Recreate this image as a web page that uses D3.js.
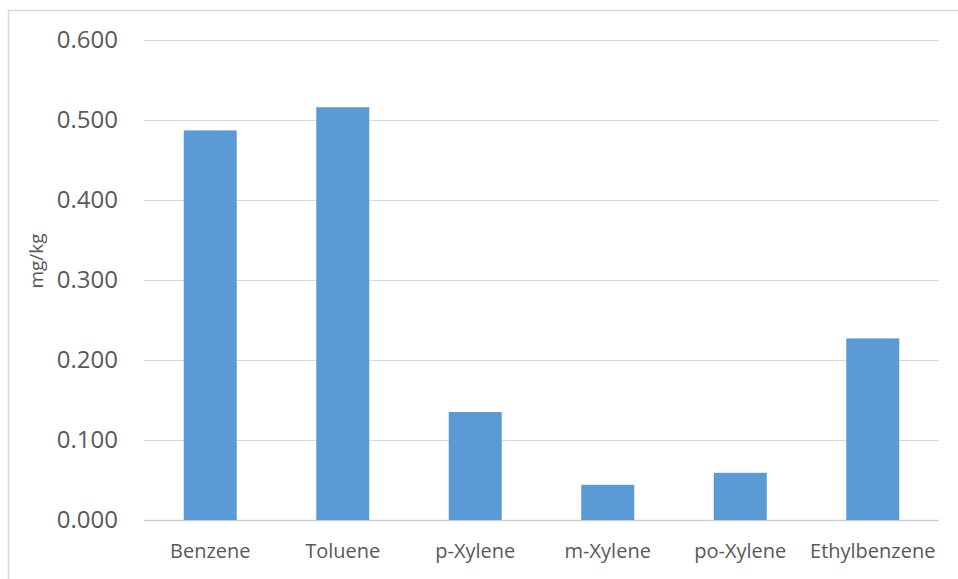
<!DOCTYPE html>
<html>
<head>
<script src="https://cdn.jsdelivr.net/npm/d3@7/dist/d3.min.js"></script>
<style>
  body { margin: 0; background: white; }
  text { font-family: 'Open Sans', sans-serif; fill: #595959; }
</style>
</head>
<body>
<script>

var categories = ["Benzene", "Toluene", "p-Xylene", "m-Xylene", "po-Xylene", "Ethylbenzene"];
var values = [0.487, 0.516, 0.135, 0.044, 0.059, 0.227];
var yTicks = [0, 0.1, 0.2, 0.3, 0.4, 0.5, 0.6];

var W = 958, H = 579;
var margin = {top: 40, right: 19, bottom: 59, left: 144};

var svg = d3.select("body").append("svg")
    .attr("width", W)
    .attr("height", H);

// chart border (left and top visible, rest runs off the frame)
svg.append("rect")
    .attr("x", 8.5).attr("y", 10.5)
    .attr("width", W).attr("height", H)
    .attr("fill", "none")
    .attr("stroke", "#d9d9d9")
    .attr("stroke-width", 1.5);

var x = d3.scaleBand().domain(categories)
    .range([margin.left, W - margin.right]);

var y = d3.scaleLinear().domain([0, 0.6])
    .range([H - margin.bottom, margin.top]);

// gridlines
svg.append("g").selectAll("line")
    .data(yTicks)
    .enter().append("line")
    .attr("x1", margin.left).attr("x2", W - margin.right)
    .attr("y1", function(d) { return Math.round(y(d)) + 0.5; })
    .attr("y2", function(d) { return Math.round(y(d)) + 0.5; })
    .attr("stroke", function(d) { return d === 0 ? "#d0d0d0" : "#d9d9d9"; })
    .attr("stroke-width", function(d) { return d === 0 ? 1.5 : 1; });

// y tick labels
svg.append("g").selectAll("text")
    .data(yTicks)
    .enter().append("text")
    .attr("x", 118)
    .attr("y", function(d) { return y(d); })
    .attr("dy", "0.35em")
    .attr("text-anchor", "end")
    .style("font-size", "24px")
    .text(function(d) { return d3.format(".3f")(d); });

// bars
var bw = x.bandwidth() * 0.4;
svg.append("g").selectAll("rect")
    .data(values)
    .enter().append("rect")
    .attr("x", function(d, i) { return x(categories[i]) + (x.bandwidth() - bw) / 2; })
    .attr("y", function(d) { return y(d); })
    .attr("width", bw)
    .attr("height", function(d) { return y(0) - y(d); })
    .attr("fill", "#5b9bd5");

// category labels
svg.append("g").selectAll("text")
    .data(categories)
    .enter().append("text")
    .attr("x", function(d) { return x(d) + x.bandwidth() / 2; })
    .attr("y", 558)
    .attr("text-anchor", "middle")
    .style("font-size", "20px")
    .text(function(d) { return d; });

// axis title
svg.append("text")
    .attr("transform", "translate(43,261) rotate(-90)")
    .attr("text-anchor", "middle")
    .style("font-size", "19px")
    .text("mg/kg");

</script>
</body>
</html>
